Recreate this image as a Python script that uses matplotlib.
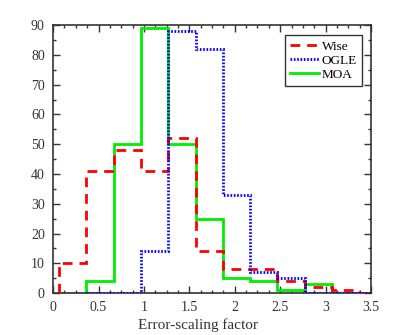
import numpy as np
import matplotlib
matplotlib.use('Agg')
import matplotlib.pyplot as plt
from matplotlib.ticker import MultipleLocator
from matplotlib.lines import Line2D

# Histogram bin edges (error-scaling factor)
edges = [0.06, 0.36, 0.67, 0.97, 1.27, 1.57, 1.87, 2.17, 2.47, 2.77, 3.07, 3.37, 3.67]

# Counts per bin
wise = [10, 41, 48, 41, 52, 14, 8, 8, 4, 2, 1, 0]
ogle = [0, 0, 14, 88, 82, 33, 7, 5, 0, 0, 0]   # starts at edges[1]
moa = [0, 4, 50, 89, 50, 25, 5, 4, 1, 3, 0, 0]

plt.rcParams['font.family'] = ['Liberation Serif', 'DejaVu Serif']

fig = plt.figure(figsize=(4.15, 3.35), dpi=100)
ax = fig.add_axes([0.128, 0.125, 0.766, 0.800])

wise_ls = (0, (3.5, 2.5))
ogle_ls = (0, (0.6, 0.6))

ax.stairs(moa, edges, baseline=0, color='#00ee00', lw=2.0, zorder=2)
ax.stairs(wise, edges, baseline=0, color='red', lw=2.0, ls=wise_ls, zorder=3)
ax.stairs(ogle, edges[1:], baseline=0, color='blue', lw=2.0, ls=ogle_ls, zorder=4)

ax.set_xlim(0, 3.5)
ax.set_ylim(0, 90)
ax.set_xticks([0, 0.5, 1, 1.5, 2, 2.5, 3, 3.5])
ax.set_xticklabels(['0', '0.5', '1', '1.5', '2', '2.5', '3', '3.5'])
ax.xaxis.set_minor_locator(MultipleLocator(0.125))
ax.yaxis.set_major_locator(MultipleLocator(10))
ax.yaxis.set_minor_locator(MultipleLocator(5))

ax.tick_params(which='both', direction='in', top=True, right=True, colors='#333333',
               labelsize=10, labelcolor='#333333')
ax.tick_params(axis='x', pad=6)
ax.tick_params(axis='y', pad=6)
ax.tick_params(which='major', length=5, width=1)
ax.tick_params(which='minor', length=2.5, width=1)
for s in ax.spines.values():
    s.set_color('#333333')
    s.set_linewidth(1.2)

ax.set_xlabel('Error-scaling factor', fontsize=11, color='#333333')
ax.xaxis.set_label_coords(0.456, -0.095)

handles = [Line2D([], [], color='red', lw=2.0, ls=wise_ls),
           Line2D([], [], color='blue', lw=2.0, ls=ogle_ls),
           Line2D([], [], color='#00ee00', lw=2.0)]
leg = ax.legend(handles, ['Wise', 'OGLE', 'MOA'], loc='upper right',
                bbox_to_anchor=(0.972, 0.963), borderaxespad=0, fontsize=9.5,
                fancybox=False, framealpha=1, edgecolor='#333333',
                handlelength=2.2, handletextpad=0.2, labelspacing=0.15, borderpad=0.4)
leg.get_frame().set_linewidth(1.0)

fig.savefig('out.png', dpi=100)
